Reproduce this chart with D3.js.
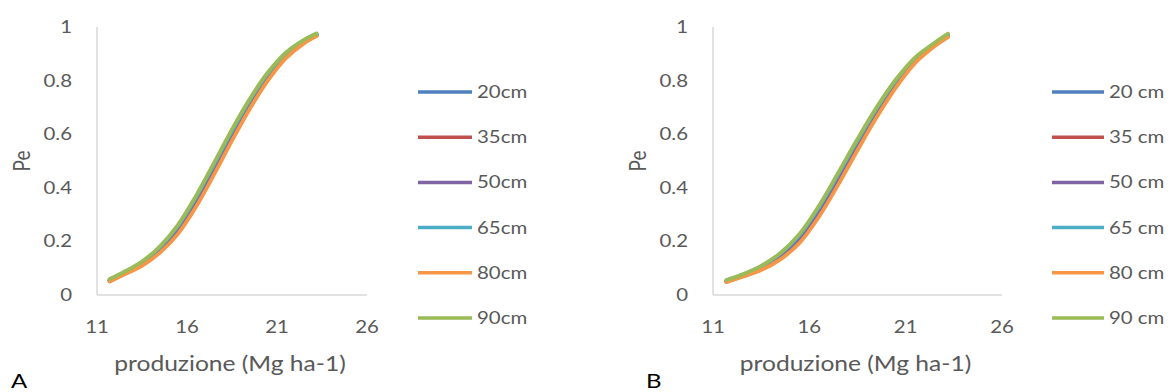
<!DOCTYPE html>
<html lang="it">
<head>
<meta charset="UTF-8">
<title>Pe vs produzione</title>
<script src="https://d3js.org/d3.v7.min.js"></script>
<style>
  body { margin: 0; background: #fff; }
  svg { display: block; }
  text { font-family: Lato, "Open Sans", sans-serif; fill: #595959; }
  .axis-line { stroke: #d9d9d9; stroke-width: 1.5; }
  .serie { fill: none; stroke-width: 3.8; stroke-linecap: round; }
</style>
</head>
<body>
<svg width="1172" height="392"></svg>
<script>
// produzione (Mg ha-1)
const produzione = [11.7, 12.5, 13.5, 14.5, 15.5, 16.5, 17.5, 18.5, 19.5, 20.5, 21.5, 22.5, 23.2];
const xTicks = [11, 16, 21, 26];
const yTicks = [0, 0.2, 0.4, 0.6, 0.8, 1];

const profonditaA = ["20cm", "35cm", "50cm", "65cm", "80cm", "90cm"];
const profonditaB = ["20 cm", "35 cm", "50 cm", "65 cm", "80 cm", "90 cm"];
const colori = ["#4f81bd", "#c0504d", "#8064a2", "#4bacc6", "#f79646", "#9bbb59"];

// Pe - grafico A
const peA20 = [0.052, 0.078, 0.114, 0.165, 0.238, 0.341, 0.462, 0.588, 0.707, 0.810, 0.890, 0.943, 0.968];
const peA35 = [0.053, 0.079, 0.115, 0.167, 0.241, 0.344, 0.466, 0.592, 0.710, 0.812, 0.892, 0.944, 0.969];
const peA50 = [0.054, 0.080, 0.116, 0.168, 0.243, 0.346, 0.468, 0.594, 0.712, 0.814, 0.893, 0.945, 0.970];
const peA65 = [0.058, 0.084, 0.123, 0.179, 0.257, 0.364, 0.487, 0.612, 0.728, 0.827, 0.902, 0.950, 0.975];
const peA80 = [0.050, 0.076, 0.109, 0.158, 0.228, 0.329, 0.449, 0.576, 0.696, 0.801, 0.884, 0.939, 0.966];
const peA90 = [0.060, 0.086, 0.125, 0.182, 0.262, 0.370, 0.493, 0.618, 0.733, 0.831, 0.905, 0.952, 0.976];

// Pe - grafico B
const peB20 = [0.050, 0.069, 0.098, 0.140, 0.205, 0.303, 0.425, 0.552, 0.674, 0.783, 0.872, 0.932, 0.965];
const peB35 = [0.050, 0.070, 0.099, 0.142, 0.208, 0.307, 0.429, 0.556, 0.678, 0.786, 0.874, 0.933, 0.966];
const peB50 = [0.051, 0.071, 0.100, 0.143, 0.210, 0.309, 0.431, 0.558, 0.680, 0.788, 0.875, 0.934, 0.967];
const peB65 = [0.055, 0.075, 0.107, 0.154, 0.224, 0.327, 0.450, 0.576, 0.696, 0.801, 0.884, 0.939, 0.971];
const peB80 = [0.048, 0.067, 0.093, 0.133, 0.195, 0.292, 0.412, 0.540, 0.664, 0.775, 0.866, 0.928, 0.962];
const peB90 = [0.056, 0.076, 0.109, 0.157, 0.229, 0.333, 0.456, 0.582, 0.701, 0.805, 0.887, 0.941, 0.975];

const svg = d3.select("svg");
const STRETCH = 1.2; // il riferimento e' leggermente allargato in orizzontale

function scritta(sel, x, y, size, anchor) {
  return sel.append("text")
    .attr("transform", `translate(${x},${y}) scale(${STRETCH},1)`)
    .attr("text-anchor", anchor)
    .style("font-size", size + "px");
}

function disegnaGrafico(cfg) {
  const x = d3.scaleLinear().domain([11, 26]).range([cfg.left, cfg.right]);
  const y = d3.scaleLinear().domain([0, 1]).range([cfg.bottom, cfg.top]);
  const g = svg.append("g");

  // assi
  g.append("line").attr("class", "axis-line")
    .attr("x1", x(11)).attr("x2", x(11)).attr("y1", y(1)).attr("y2", y(0));
  g.append("line").attr("class", "axis-line")
    .attr("x1", x(11)).attr("x2", x(26)).attr("y1", y(0)).attr("y2", y(0));

  yTicks.forEach(d => scritta(g, x(11) - 25, y(d) + 6, 17, "end").text(d));
  xTicks.forEach(d => scritta(g, x(d), cfg.bottom + 38, 17, "middle").text(d));

  scritta(g, (x(11) + x(26)) / 2 - 2, 371, 20.5, "middle").text("produzione (Mg ha-1)");

  g.append("text")
    .attr("transform", `translate(${cfg.left - 67},${(cfg.top + cfg.bottom) / 2}) rotate(-90) scale(1,${STRETCH})`)
    .attr("text-anchor", "middle").style("font-size", "19px")
    .text("Pe");

  const line = d3.line()
    .x((d, i) => x(produzione[i]))
    .y(d => y(d))
    .curve(d3.curveCatmullRom.alpha(0.5));

  g.selectAll(".serie").data(cfg.serie).enter().append("path")
    .attr("class", "serie")
    .attr("stroke", (d, i) => colori[i])
    .attr("d", d => line(d));

  // legenda
  cfg.nomi.forEach((nome, i) => {
    const yy = 92 + i * 45.2;
    g.append("line")
      .attr("x1", cfg.legX).attr("x2", cfg.legX + cfg.legW).attr("y1", yy).attr("y2", yy)
      .attr("stroke", colori[i]).attr("stroke-width", 3.5);
    scritta(g, cfg.legX + cfg.legW + 5, yy + 6, 17, "start").text(nome);
  });

  scritta(svg, cfg.labelX, cfg.labelY, 20, "start").style("fill", "#000").text(cfg.label);
}

disegnaGrafico({
  left: 97, right: 367, top: 27, bottom: 295,
  serie: [peA20, peA35, peA50, peA65, peA80, peA90],
  nomi: profonditaA, legX: 418, legW: 54,
  label: "A", labelX: 11, labelY: 388
});

disegnaGrafico({
  left: 713, right: 1002, top: 27, bottom: 295,
  serie: [peB20, peB35, peB50, peB65, peB80, peB90],
  nomi: profonditaB, legX: 1052, legW: 52,
  label: "B", labelX: 646, labelY: 388
});
</script>
</body>
</html>
